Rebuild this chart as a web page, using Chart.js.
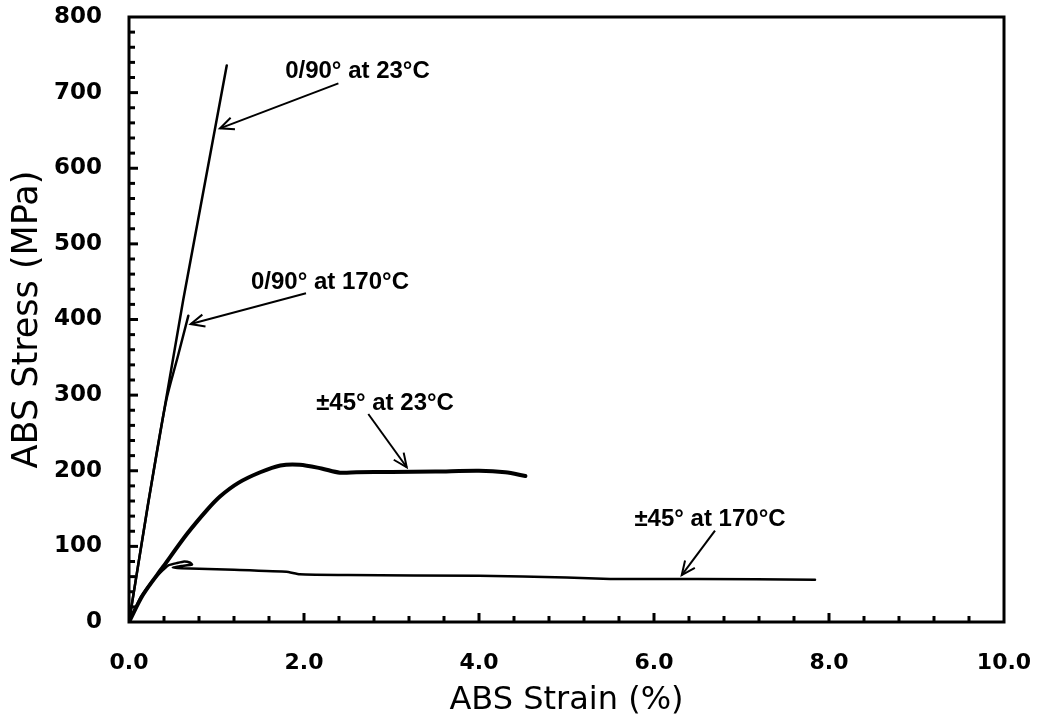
<!DOCTYPE html>
<html><head><meta charset="utf-8">
<script src="https://cdn.jsdelivr.net/npm/chart.js@4/dist/chart.umd.min.js"></script>
<style>html,body{margin:0;padding:0;background:#fff;} #wrap{width:1037px;height:721px;}</style>
</head><body><div id="wrap"><canvas id="c" width="1037" height="721"></canvas></div>
<script>
// ---- Data (strain %, stress MPa) ----
const strain_090_23 = [0, 0.22, 0.62, 1.117];
const stress_090_23 = [0, 158, 426, 736];

const strain_090_170 = [0, 0.22, 0.42, 0.56, 0.678];
const stress_090_170 = [0, 157, 290, 352, 405];

const strain_45_23 = [0, 0.16, 0.39, 0.66, 0.89, 1.04, 1.25, 1.50, 1.73, 1.95, 2.20, 2.41, 2.60, 3.00, 3.50, 4.00, 4.30, 4.53];
const stress_45_23 = [0, 36, 73, 116, 148, 166, 184, 198, 207, 208, 203, 197.5, 198, 198.5, 199, 200, 198, 193];

const strain_45_170 = [0, 0.13, 0.25, 0.38, 0.45, 0.55, 0.63, 0.70, 0.72, 0.60, 0.50, 0.60, 0.80, 1.20, 1.80, 1.95, 2.50, 4.00, 5.00, 5.50, 6.50, 7.84];
const stress_45_170 = [0, 32, 52, 68, 75, 78, 80, 78.5, 76, 74, 72, 71, 70.5, 69, 66.5, 63, 62, 61, 59, 57, 57, 56];

const xTickStep = 2;     // major strain ticks
const yTickStep = 100;   // major stress ticks
const xMinorStep = 0.4;
const yMinorStep = 20;

const labels = ['0/90° at 23°C', '0/90° at 170°C', '±45° at 23°C', '±45° at 170°C'];
// annotation positions in data units: label centre, arrow start, arrow tip
const labelX = [2.611, 2.297, 2.926, 6.640];
const labelY = [727.7, 448.7, 289.6, 136.2];
const arrowFromX = [2.393, 2.023, 2.735, 6.697];
const arrowFromY = [712.3, 434.6, 275.0, 120.7];
const arrowToX = [1.040, 0.705, 3.174, 6.317];
const arrowToY = [652.8, 394.0, 204.6, 62.1];

const toPts = (xs, ys) => xs.map((x, i) => ({x, y: ys[i]}));

const overlay = {
  id: 'overlay',
  afterDatasetsDraw(chart) {
    const {ctx, chartArea: a, scales: {x, y}} = chart;
    ctx.save();
    ctx.strokeStyle = '#000';
    ctx.lineCap = 'butt';
    ctx.lineWidth = 3;
    const nx = Math.round(10 / xMinorStep);
    for (let i = 1; i < nx; i++) {
      const px = x.getPixelForValue(i * xMinorStep);
      const len = (i % 5 === 0) ? 9 : 6;
      ctx.beginPath(); ctx.moveTo(px, a.bottom); ctx.lineTo(px, a.bottom - len); ctx.stroke();
    }
    const ny = Math.round(800 / yMinorStep);
    for (let i = 1; i < ny; i++) {
      const py = y.getPixelForValue(i * yMinorStep);
      const len = (i % 5 === 0) ? 9 : 6;
      ctx.beginPath(); ctx.moveTo(a.left, py); ctx.lineTo(a.left + len, py); ctx.stroke();
    }
    ctx.lineWidth = 3;
    ctx.strokeRect(a.left, a.top, a.right - a.left, a.bottom - a.top);
    ctx.fillStyle = '#000';
    ctx.font = 'bold 24px "Liberation Sans", Arial, sans-serif';
    ctx.textAlign = 'center';
    ctx.textBaseline = 'middle';
    ctx.lineWidth = 2;
    for (let i = 0; i < labels.length; i++) {
      ctx.fillText(labels[i], x.getPixelForValue(labelX[i]), y.getPixelForValue(labelY[i]));
      const x0 = x.getPixelForValue(arrowFromX[i]), y0 = y.getPixelForValue(arrowFromY[i]);
      const x1 = x.getPixelForValue(arrowToX[i]), y1 = y.getPixelForValue(arrowToY[i]);
      ctx.beginPath(); ctx.moveTo(x0, y0); ctx.lineTo(x1, y1); ctx.stroke();
      const ang = Math.atan2(y1 - y0, x1 - x0);
      const hl = 15, ha = 0.42;
      ctx.beginPath();
      ctx.moveTo(x1 - hl * Math.cos(ang - ha), y1 - hl * Math.sin(ang - ha));
      ctx.lineTo(x1, y1);
      ctx.lineTo(x1 - hl * Math.cos(ang + ha), y1 - hl * Math.sin(ang + ha));
      ctx.stroke();
    }
    ctx.restore();
  }
};

const ds = (xs, ys, w, t) => ({
  data: toPts(xs, ys), showLine: true, borderColor: '#000', backgroundColor: '#000',
  borderWidth: w, pointRadius: 0, tension: t, fill: false, borderCapStyle: 'round', borderJoinStyle: 'round'
});

const noPad = s => { s.paddingTop = 0; s.paddingBottom = 0; s.paddingLeft = 0; s.paddingRight = 0; };

new Chart(document.getElementById('c'), {
  type: 'scatter',
  data: {
    datasets: [
      ds(strain_090_23, stress_090_23, 2.5, 0),
      ds(strain_090_170, stress_090_170, 2.5, 0.3),
      ds(strain_45_23, stress_45_23, 4, 0.3),
      ds(strain_45_170, stress_45_170, 2.5, 0.1)
    ]
  },
  options: {
    responsive: false, animation: false, devicePixelRatio: 1,
    layout: {padding: {left: 0, right: 33, top: 17, bottom: 0}},
    plugins: {legend: {display: false}, tooltip: {enabled: false}},
    scales: {
      x: {
        type: 'linear', min: 0, max: 10,
        afterFit: s => { s.height = 99; noPad(s); },
        grid: {display: false, drawTicks: false},
        border: {display: false},
        ticks: {stepSize: xTickStep, padding: 28, color: '#000', maxRotation: 0,
          font: {family: '"DejaVu Sans"', weight: 'bold', size: 22},
          callback: v => Number(v).toFixed(1)},
        title: {display: true, text: 'ABS Strain (%)', color: '#000',
          font: {family: '"DejaVu Sans"', size: 32}, padding: {top: 0, bottom: 1}}
      },
      y: {
        type: 'linear', min: 0, max: 800,
        afterFit: s => { s.width = 129; noPad(s); },
        grid: {display: false, drawTicks: false},
        border: {display: false},
        ticks: {stepSize: yTickStep, padding: 27, color: '#000',
          font: {family: '"DejaVu Sans"', weight: 'bold', size: 23}},
        title: {display: true, text: 'ABS Stress (MPa)', color: '#000',
          font: {family: '"DejaVu Sans"', size: 35}, padding: {top: 7, bottom: 0}}
      }
    }
  },
  plugins: [overlay]
});
</script>
</body></html>
